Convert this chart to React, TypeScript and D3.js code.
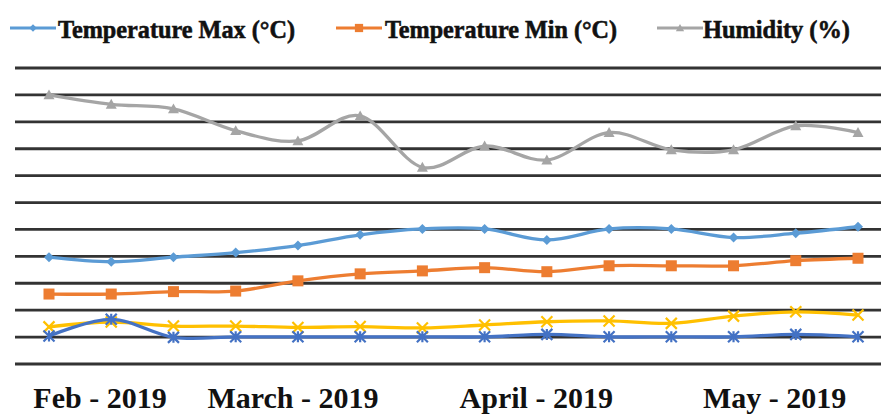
import React from "react";
import * as d3 from "d3";

const W = 881;
const H = 414;

// 14 observation points
const points = d3.range(14);

const tempMax = [39.7, 38.0, 39.7, 41.4, 44.0, 48.0, 50.2, 50.2, 46.1, 50.2, 50.2, 47.0, 48.6, 51.0];
const tempMin = [26.0, 26.0, 26.9, 27.1, 30.9, 33.5, 34.6, 35.8, 34.3, 36.5, 36.5, 36.5, 38.4, 39.3];
const humidity = [100.0, 96.5, 94.8, 86.7, 82.9, 92.2, 73.1, 81.0, 75.8, 86.0, 79.6, 79.6, 88.5, 86.0];
const seriesYellow = [13.8, 15.6, 14.1, 14.1, 13.6, 13.9, 13.4, 14.5, 15.7, 16.0, 15.1, 17.8, 19.4, 18.2];
const seriesDarkBlue = [10.4, 16.6, 9.9, 10.1, 10.1, 10.1, 10.1, 10.1, 11.0, 10.1, 10.1, 10.1, 11.0, 10.1];

const gridTicks = d3.range(0, 111, 10);

const monthLabels = ["Feb - 2019", "March - 2019", "April - 2019", "May - 2019"];
const monthLabelPos = [0.82, 3.92, 7.83, 11.66];

const legendLabels = ["Temperature Max (°C)", "Temperature Min (°C)", "Humidity (%)"];

type Marker = "diamond" | "square" | "triangle" | "x" | "star";

const series: { values: number[]; color: string; marker: Marker }[] = [
  { values: humidity, color: "#A5A5A5", marker: "triangle" },
  { values: tempMin, color: "#ED7D31", marker: "square" },
  { values: tempMax, color: "#5B9BD5", marker: "diamond" },
  { values: seriesYellow, color: "#FFC000", marker: "x" },
  { values: seriesDarkBlue, color: "#4472C4", marker: "star" },
];

function MarkerShape({ type, x, y, color, s = 1 }: { type: Marker; x: number; y: number; color: string; s?: number }) {
  if (type === "diamond") {
    const r = 5 * s;
    return <path d={`M${x},${y - r}L${x + r},${y}L${x},${y + r}L${x - r},${y}Z`} fill={color} />;
  }
  if (type === "square") {
    const r = 5.5 * s;
    return <rect x={x - r} y={y - r} width={2 * r} height={2 * r} fill={color} />;
  }
  if (type === "triangle") {
    const r = 5.5 * s;
    return <path d={`M${x},${y - r}L${x + r},${y + r * 0.8}L${x - r},${y + r * 0.8}Z`} fill={color} />;
  }
  if (type === "x") {
    const r = 5.5 * s;
    return (
      <path d={`M${x - r},${y - r}L${x + r},${y + r}M${x + r},${y - r}L${x - r},${y + r}`} stroke={color} strokeWidth={2.2} />
    );
  }
  const r = 5.5 * s;
  return (
    <path
      d={`M${x - r},${y - r}L${x + r},${y + r}M${x + r},${y - r}L${x - r},${y + r}M${x},${y - r}L${x},${y + r}`}
      stroke={color}
      strokeWidth={2.2}
    />
  );
}

export default function App() {
  const x = d3.scaleLinear().domain([0, 13]).range([49, 858]);
  const y = d3.scaleLinear().domain([0, 110]).range([364, 68]);
  const line = d3
    .line<number>()
    .x((_, i) => x(i))
    .y((d) => y(d))
    .curve(d3.curveCardinal.tension(0));

  const font = "'Liberation Serif', 'Times New Roman', serif";

  const legendItems = [
    { label: legendLabels[0], color: "#5B9BD5", marker: "diamond" as Marker, x0: 10, tx: 58, tw: 237 },
    { label: legendLabels[1], color: "#ED7D31", marker: "square" as Marker, x0: 336, tx: 385, tw: 232 },
    { label: legendLabels[2], color: "#A5A5A5", marker: "triangle" as Marker, x0: 657, tx: 703, tw: 147 },
  ];

  return (
    <svg width={W} height={H} style={{ position: "absolute", left: 0, top: 0, background: "#fff" }}>
      {/* gridlines */}
      {gridTicks.map((t) => (
        <line key={t} x1={15} x2={W} y1={y(t)} y2={y(t)} stroke="#333" strokeWidth={2.8} />
      ))}

      {/* series */}
      {series.map((s, si) => (
        <g key={si}>
          <path d={line(s.values) || ""} fill="none" stroke={s.color} strokeWidth={3.3} />
          {s.values.map((v, i) => (
            <MarkerShape key={i} type={s.marker} x={x(points[i])} y={y(v)} color={s.color} />
          ))}
        </g>
      ))}

      {/* month labels */}
      {monthLabels.map((m, i) => (
        <text
          key={m}
          x={x(monthLabelPos[i])}
          y={408}
          textAnchor="middle"
          fontFamily={font}
          fontWeight="bold"
          fontSize={30}
          fill="#111"
        >
          {m}
        </text>
      ))}

      {/* legend */}
      {legendItems.map((it) => (
        <g key={it.label}>
          <line x1={it.x0} x2={it.x0 + 46} y1={28} y2={28} stroke={it.color} strokeWidth={3} />
          <MarkerShape type={it.marker} x={it.x0 + 23} y={28} color={it.color} s={0.75} />
          <text
            x={it.tx}
            y={38}
            fontFamily={font}
            fontWeight="bold"
            fontSize={26}
            fill="#111"
            stroke="#111"
            strokeWidth={0.6}
            textLength={it.tw}
            lengthAdjust="spacingAndGlyphs"
          >
            {it.label}
          </text>
        </g>
      ))}
    </svg>
  );
}
